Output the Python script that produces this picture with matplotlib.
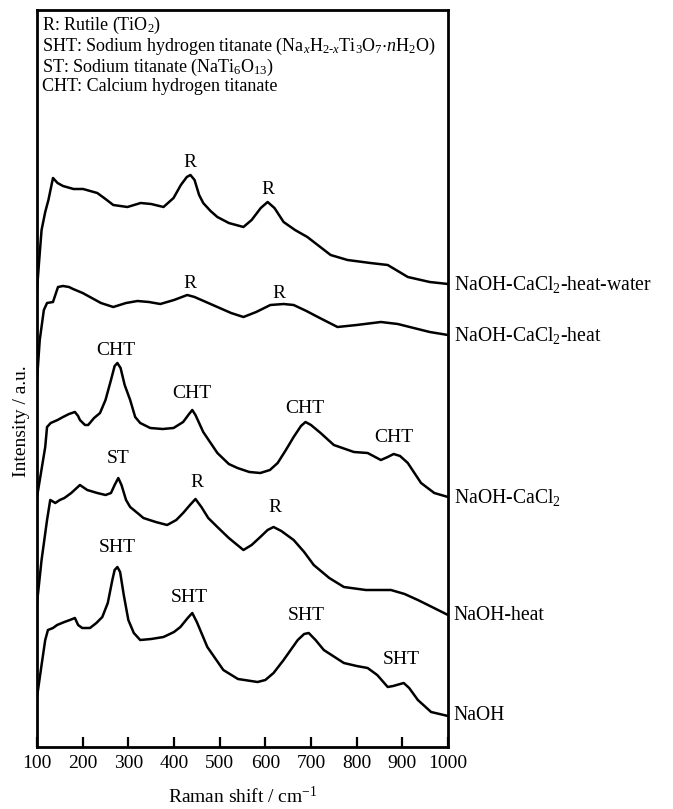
import matplotlib
matplotlib.use('Agg')
import matplotlib.pyplot as plt

plt.rcParams['font.family'] = ['Liberation Serif', 'DejaVu Serif']
plt.rcParams['mathtext.fontset'] = 'custom'
plt.rcParams['mathtext.rm'] = 'Liberation Serif'
plt.rcParams['mathtext.it'] = 'Liberation Serif:italic'
plt.rcParams['mathtext.default'] = 'regular'

# spectra (intensity in a.u., offset stacked)
x_water = [100, 104, 110, 118, 125, 135, 145, 157, 180, 201, 232, 250, 267, 298, 327, 350, 377, 399,
           415, 428, 436, 445, 455, 464, 480, 495, 520, 552, 570, 590, 605, 620, 640, 665, 692, 743,
           780, 830, 868, 912, 960, 1000]
y_water = [457, 482, 517, 535, 547, 569, 564, 561, 558, 558, 554, 548, 542, 540, 544, 543, 540, 549,
           562, 570, 572, 567, 552, 544, 536, 530, 524, 520, 527, 539, 545, 539, 525, 517, 510, 492,
           487, 484, 482, 470, 465, 463]

x_heat = [100, 106, 115, 122, 135, 146, 157, 170, 179, 200, 216, 240, 267, 295, 320, 345, 370, 400,
          429, 445, 470, 495, 525, 552, 580, 611, 640, 662, 690, 715, 758, 800, 853, 890, 925, 960, 1000]
y_heat = [367, 407, 437, 444, 445, 460, 461, 460, 458, 454, 450, 444, 440, 444, 446, 445, 443, 447,
          452, 450, 445, 440, 434, 430, 435, 442, 443, 442, 436, 430, 420, 422, 425, 423, 419, 415, 412]

x_cacl2 = [100, 118, 122, 130, 145, 157, 170, 183, 190, 194, 205, 212, 225, 238, 250, 262, 270, 276,
           283, 292, 304, 315, 326, 348, 375, 399, 420, 433, 440, 447, 464, 495, 520, 539, 565, 589,
           610, 627, 645, 662, 678, 688, 700, 721, 750, 794, 824, 853, 868, 881, 895, 912, 925, 941,
           970, 1000]
y_cacl2 = [250, 300, 320, 324, 327, 330, 333, 335, 331, 327, 322, 322, 329, 334, 347, 367, 381, 384,
           379, 362, 347, 330, 324, 319, 318, 319, 325, 333, 337, 332, 315, 294, 283, 279, 275, 274,
           277, 284, 297, 310, 321, 325, 322, 314, 302, 295, 294, 287, 290, 293, 291, 284, 275, 264,
           254, 250]

x_naoh_heat = [100, 110, 122, 129, 133, 140, 150, 160, 175, 194, 210, 232, 250, 262, 270, 278, 285, 295,
               304, 320, 333, 360, 385, 405, 420, 435, 447, 460, 475, 495, 520, 552, 570, 589, 605, 618,
               635, 662, 685, 706, 740, 772, 820, 875, 905, 934, 965, 1000]
y_naoh_heat = [144, 187, 227, 247, 246, 244, 247, 249, 254, 262, 257, 254, 252, 254, 262, 269, 262, 247,
               240, 234, 229, 225, 222, 227, 234, 242, 248, 240, 229, 220, 209, 197, 202, 210, 217, 220,
               216, 207, 195, 182, 169, 160, 157, 157, 153, 147, 140, 132]

x_naoh = [100, 110, 118, 124, 135, 144, 160, 172, 183, 190, 199, 216, 230, 243, 255, 265, 270, 276, 282,
          290, 300, 312, 326, 350, 377, 400, 414, 430, 440, 450, 473, 508, 540, 583, 600, 618, 640, 671,
          685, 695, 710, 728, 772, 800, 824, 845, 868, 880, 903, 915, 934, 963, 1000]
y_naoh = [50, 82, 107, 117, 119, 122, 125, 127, 129, 122, 119, 119, 124, 130, 144, 167, 177, 180, 175,
          152, 127, 114, 107, 108, 110, 115, 120, 129, 134, 125, 100, 77, 68, 65, 67, 74, 87, 107,
          113, 114, 107, 97, 84, 81, 79, 72, 60, 61, 64, 59, 47, 35, 31]

sample_names = ['NaOH-CaCl$_2$-heat-water', 'NaOH-CaCl$_2$-heat', 'NaOH-CaCl$_2$', 'NaOH-heat', 'NaOH']

# peak assignments: (label, shift, height)
peaks = [('R', 434, 585), ('R', 605, 558),
         ('R', 434, 464), ('R', 629, 454),
         ('CHT', 273, 397), ('CHT', 440, 354), ('CHT', 686, 339), ('CHT', 881, 310),
         ('ST', 278, 289), ('R', 451, 265), ('R', 622, 239),
         ('SHT', 276, 200), ('SHT', 434, 150), ('SHT', 690, 131), ('SHT', 897, 88)]

legend_lines = ['R: Rutile (TiO$_2$)',
                'SHT: Sodium hydrogen titanate (Na$_{\\mathit{x}}$H$_{2\\text{-}\\mathit{x}}$Ti$_3$O$_7$$\\cdot$$\\mathit{n}$H$_2$O)',
                'ST: Sodium titanate (NaTi$_6$O$_{13}$)',
                'CHT: Calcium hydrogen titanate']

fig = plt.figure(figsize=(6.73, 8.09), dpi=100)
ax = fig.add_axes([37/673, 1-747/809, 411/673, 737/809])

spectra = [(x_water, y_water), (x_heat, y_heat), (x_cacl2, y_cacl2),
           (x_naoh_heat, y_naoh_heat), (x_naoh, y_naoh)]
for (xs, ys), name in zip(spectra, sample_names):
    ax.plot(xs, ys, color='black', lw=1.8, solid_joinstyle='round')
    ax.annotate(name, xy=(1000, ys[-1]), xytext=(4, 0), textcoords='offset points',
                va='center', ha='left', fontsize=14.2, annotation_clip=False)

for lab, px, py in peaks:
    ax.text(px, py, lab, ha='center', va='center', fontsize=14)

for i, line in enumerate(legend_lines):
    ax.text(0.012, 0.993 - i*0.0285, line, transform=ax.transAxes, ha='left', va='top', fontsize=13)

ax.set_xlim(100, 1000)
ax.set_ylim(0, 737)
ax.set_xticks(range(100, 1001, 100))
ax.set_yticks([])
ax.tick_params(axis='x', direction='in', length=7, width=1.6, labelsize=14, pad=6)
for sp in ax.spines.values():
    sp.set_linewidth(2)
ax.set_xlabel('Raman shift / cm$^{-1}$', fontsize=14, labelpad=10)
ax.set_ylabel('Intensity / a.u.', fontsize=14)
ax.yaxis.set_label_coords(-0.018, 0.442)

fig.savefig('out.png', dpi=100)
